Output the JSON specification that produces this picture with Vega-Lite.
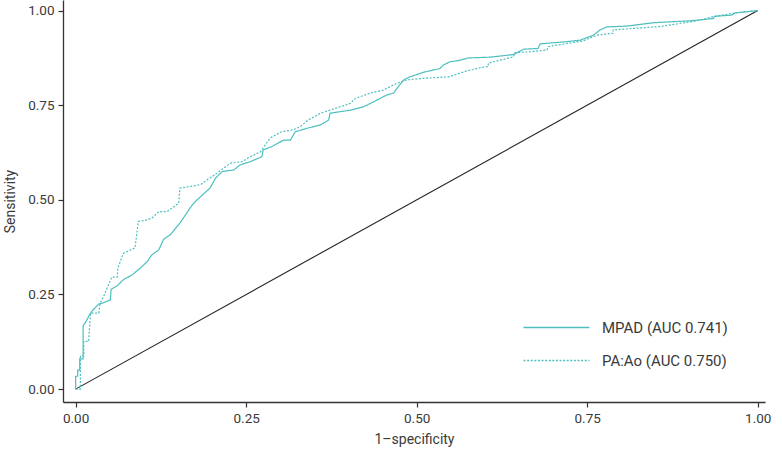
{
  "$schema": "https://vega.github.io/schema/vega-lite/v6.json",
  "width": 702,
  "height": 402,
  "autosize": "none",
  "padding": {"left": 63, "top": 0, "right": 17, "bottom": 55},
  "background": "white",
  "config": {
    "view": {"stroke": null},
    "font": "Roboto",
    "axis": {
      "grid": false,
      "domainColor": "#333333",
      "domainWidth": 1.3,
      "tickColor": "#333333",
      "tickWidth": 1.2,
      "tickSize": 5,
      "labelFont": "Roboto",
      "labelFontSize": 13.5,
      "labelColor": "#3a3a3a",
      "labelPadding": 4,
      "titleFont": "Roboto",
      "titleFontSize": 14,
      "titleFontWeight": "normal",
      "titleColor": "#3a3a3a"
    },
    "legend": {
      "labelFont": "Roboto",
      "labelFontSize": 15,
      "labelColor": "#3a3a3a"
    }
  },
  "datasets": {
    "roc": [
      {"series": "MPAD (AUC 0.741)", "fpr": 0, "tpr": 0},
      {"series": "MPAD (AUC 0.741)", "fpr": 0, "tpr": 0.034},
      {"series": "MPAD (AUC 0.741)", "fpr": 0.003, "tpr": 0.034},
      {"series": "MPAD (AUC 0.741)", "fpr": 0.003, "tpr": 0.05},
      {"series": "MPAD (AUC 0.741)", "fpr": 0.006, "tpr": 0.05},
      {"series": "MPAD (AUC 0.741)", "fpr": 0.006, "tpr": 0.08},
      {"series": "MPAD (AUC 0.741)", "fpr": 0.011, "tpr": 0.08},
      {"series": "MPAD (AUC 0.741)", "fpr": 0.011, "tpr": 0.168},
      {"series": "MPAD (AUC 0.741)", "fpr": 0.014, "tpr": 0.175},
      {"series": "MPAD (AUC 0.741)", "fpr": 0.018, "tpr": 0.188},
      {"series": "MPAD (AUC 0.741)", "fpr": 0.021, "tpr": 0.199},
      {"series": "MPAD (AUC 0.741)", "fpr": 0.026, "tpr": 0.21},
      {"series": "MPAD (AUC 0.741)", "fpr": 0.034, "tpr": 0.225},
      {"series": "MPAD (AUC 0.741)", "fpr": 0.039, "tpr": 0.227},
      {"series": "MPAD (AUC 0.741)", "fpr": 0.051, "tpr": 0.236},
      {"series": "MPAD (AUC 0.741)", "fpr": 0.052, "tpr": 0.264},
      {"series": "MPAD (AUC 0.741)", "fpr": 0.061, "tpr": 0.273},
      {"series": "MPAD (AUC 0.741)", "fpr": 0.07, "tpr": 0.289},
      {"series": "MPAD (AUC 0.741)", "fpr": 0.083, "tpr": 0.302},
      {"series": "MPAD (AUC 0.741)", "fpr": 0.095, "tpr": 0.32},
      {"series": "MPAD (AUC 0.741)", "fpr": 0.105, "tpr": 0.337},
      {"series": "MPAD (AUC 0.741)", "fpr": 0.112, "tpr": 0.355},
      {"series": "MPAD (AUC 0.741)", "fpr": 0.122, "tpr": 0.368},
      {"series": "MPAD (AUC 0.741)", "fpr": 0.129, "tpr": 0.396},
      {"series": "MPAD (AUC 0.741)", "fpr": 0.139, "tpr": 0.408},
      {"series": "MPAD (AUC 0.741)", "fpr": 0.153, "tpr": 0.439},
      {"series": "MPAD (AUC 0.741)", "fpr": 0.161, "tpr": 0.46},
      {"series": "MPAD (AUC 0.741)", "fpr": 0.166, "tpr": 0.474},
      {"series": "MPAD (AUC 0.741)", "fpr": 0.173, "tpr": 0.491},
      {"series": "MPAD (AUC 0.741)", "fpr": 0.178, "tpr": 0.5},
      {"series": "MPAD (AUC 0.741)", "fpr": 0.197, "tpr": 0.531},
      {"series": "MPAD (AUC 0.741)", "fpr": 0.205, "tpr": 0.557},
      {"series": "MPAD (AUC 0.741)", "fpr": 0.215, "tpr": 0.575},
      {"series": "MPAD (AUC 0.741)", "fpr": 0.232, "tpr": 0.579},
      {"series": "MPAD (AUC 0.741)", "fpr": 0.241, "tpr": 0.592},
      {"series": "MPAD (AUC 0.741)", "fpr": 0.256, "tpr": 0.601},
      {"series": "MPAD (AUC 0.741)", "fpr": 0.273, "tpr": 0.614},
      {"series": "MPAD (AUC 0.741)", "fpr": 0.275, "tpr": 0.632},
      {"series": "MPAD (AUC 0.741)", "fpr": 0.288, "tpr": 0.641},
      {"series": "MPAD (AUC 0.741)", "fpr": 0.305, "tpr": 0.658},
      {"series": "MPAD (AUC 0.741)", "fpr": 0.315, "tpr": 0.658},
      {"series": "MPAD (AUC 0.741)", "fpr": 0.322, "tpr": 0.68},
      {"series": "MPAD (AUC 0.741)", "fpr": 0.339, "tpr": 0.689},
      {"series": "MPAD (AUC 0.741)", "fpr": 0.359, "tpr": 0.698},
      {"series": "MPAD (AUC 0.741)", "fpr": 0.371, "tpr": 0.711},
      {"series": "MPAD (AUC 0.741)", "fpr": 0.373, "tpr": 0.729},
      {"series": "MPAD (AUC 0.741)", "fpr": 0.403, "tpr": 0.737},
      {"series": "MPAD (AUC 0.741)", "fpr": 0.422, "tpr": 0.746},
      {"series": "MPAD (AUC 0.741)", "fpr": 0.437, "tpr": 0.759},
      {"series": "MPAD (AUC 0.741)", "fpr": 0.456, "tpr": 0.777},
      {"series": "MPAD (AUC 0.741)", "fpr": 0.466, "tpr": 0.782},
      {"series": "MPAD (AUC 0.741)", "fpr": 0.473, "tpr": 0.799},
      {"series": "MPAD (AUC 0.741)", "fpr": 0.481, "tpr": 0.817},
      {"series": "MPAD (AUC 0.741)", "fpr": 0.49, "tpr": 0.825},
      {"series": "MPAD (AUC 0.741)", "fpr": 0.51, "tpr": 0.837},
      {"series": "MPAD (AUC 0.741)", "fpr": 0.534, "tpr": 0.847},
      {"series": "MPAD (AUC 0.741)", "fpr": 0.539, "tpr": 0.856},
      {"series": "MPAD (AUC 0.741)", "fpr": 0.549, "tpr": 0.865},
      {"series": "MPAD (AUC 0.741)", "fpr": 0.561, "tpr": 0.868},
      {"series": "MPAD (AUC 0.741)", "fpr": 0.576, "tpr": 0.875},
      {"series": "MPAD (AUC 0.741)", "fpr": 0.608, "tpr": 0.877},
      {"series": "MPAD (AUC 0.741)", "fpr": 0.642, "tpr": 0.884},
      {"series": "MPAD (AUC 0.741)", "fpr": 0.657, "tpr": 0.898},
      {"series": "MPAD (AUC 0.741)", "fpr": 0.678, "tpr": 0.9},
      {"series": "MPAD (AUC 0.741)", "fpr": 0.681, "tpr": 0.912},
      {"series": "MPAD (AUC 0.741)", "fpr": 0.72, "tpr": 0.918},
      {"series": "MPAD (AUC 0.741)", "fpr": 0.74, "tpr": 0.922},
      {"series": "MPAD (AUC 0.741)", "fpr": 0.759, "tpr": 0.935},
      {"series": "MPAD (AUC 0.741)", "fpr": 0.769, "tpr": 0.949},
      {"series": "MPAD (AUC 0.741)", "fpr": 0.779, "tpr": 0.957},
      {"series": "MPAD (AUC 0.741)", "fpr": 0.808, "tpr": 0.959},
      {"series": "MPAD (AUC 0.741)", "fpr": 0.847, "tpr": 0.968},
      {"series": "MPAD (AUC 0.741)", "fpr": 0.901, "tpr": 0.973},
      {"series": "MPAD (AUC 0.741)", "fpr": 0.935, "tpr": 0.979},
      {"series": "MPAD (AUC 0.741)", "fpr": 0.937, "tpr": 0.985},
      {"series": "MPAD (AUC 0.741)", "fpr": 0.962, "tpr": 0.988},
      {"series": "MPAD (AUC 0.741)", "fpr": 0.967, "tpr": 0.994},
      {"series": "MPAD (AUC 0.741)", "fpr": 1, "tpr": 1},
      {"series": "PA:Ao (AUC 0.750)", "fpr": 0, "tpr": 0},
      {"series": "PA:Ao (AUC 0.750)", "fpr": 0.007, "tpr": 0},
      {"series": "PA:Ao (AUC 0.750)", "fpr": 0.007, "tpr": 0.087},
      {"series": "PA:Ao (AUC 0.750)", "fpr": 0.012, "tpr": 0.087},
      {"series": "PA:Ao (AUC 0.750)", "fpr": 0.012, "tpr": 0.126},
      {"series": "PA:Ao (AUC 0.750)", "fpr": 0.019, "tpr": 0.126},
      {"series": "PA:Ao (AUC 0.750)", "fpr": 0.022, "tpr": 0.201},
      {"series": "PA:Ao (AUC 0.750)", "fpr": 0.034, "tpr": 0.201},
      {"series": "PA:Ao (AUC 0.750)", "fpr": 0.036, "tpr": 0.227},
      {"series": "PA:Ao (AUC 0.750)", "fpr": 0.041, "tpr": 0.245},
      {"series": "PA:Ao (AUC 0.750)", "fpr": 0.053, "tpr": 0.296},
      {"series": "PA:Ao (AUC 0.750)", "fpr": 0.061, "tpr": 0.296},
      {"series": "PA:Ao (AUC 0.750)", "fpr": 0.062, "tpr": 0.32},
      {"series": "PA:Ao (AUC 0.750)", "fpr": 0.07, "tpr": 0.359},
      {"series": "PA:Ao (AUC 0.750)", "fpr": 0.087, "tpr": 0.373},
      {"series": "PA:Ao (AUC 0.750)", "fpr": 0.092, "tpr": 0.443},
      {"series": "PA:Ao (AUC 0.750)", "fpr": 0.105, "tpr": 0.447},
      {"series": "PA:Ao (AUC 0.750)", "fpr": 0.112, "tpr": 0.452},
      {"series": "PA:Ao (AUC 0.750)", "fpr": 0.122, "tpr": 0.469},
      {"series": "PA:Ao (AUC 0.750)", "fpr": 0.134, "tpr": 0.469},
      {"series": "PA:Ao (AUC 0.750)", "fpr": 0.144, "tpr": 0.482},
      {"series": "PA:Ao (AUC 0.750)", "fpr": 0.151, "tpr": 0.491},
      {"series": "PA:Ao (AUC 0.750)", "fpr": 0.153, "tpr": 0.531},
      {"series": "PA:Ao (AUC 0.750)", "fpr": 0.183, "tpr": 0.54},
      {"series": "PA:Ao (AUC 0.750)", "fpr": 0.193, "tpr": 0.553},
      {"series": "PA:Ao (AUC 0.750)", "fpr": 0.207, "tpr": 0.57},
      {"series": "PA:Ao (AUC 0.750)", "fpr": 0.217, "tpr": 0.584},
      {"series": "PA:Ao (AUC 0.750)", "fpr": 0.227, "tpr": 0.597},
      {"series": "PA:Ao (AUC 0.750)", "fpr": 0.244, "tpr": 0.601},
      {"series": "PA:Ao (AUC 0.750)", "fpr": 0.256, "tpr": 0.614},
      {"series": "PA:Ao (AUC 0.750)", "fpr": 0.271, "tpr": 0.627},
      {"series": "PA:Ao (AUC 0.750)", "fpr": 0.285, "tpr": 0.663},
      {"series": "PA:Ao (AUC 0.750)", "fpr": 0.302, "tpr": 0.68},
      {"series": "PA:Ao (AUC 0.750)", "fpr": 0.319, "tpr": 0.685},
      {"series": "PA:Ao (AUC 0.750)", "fpr": 0.329, "tpr": 0.693},
      {"series": "PA:Ao (AUC 0.750)", "fpr": 0.341, "tpr": 0.711},
      {"series": "PA:Ao (AUC 0.750)", "fpr": 0.359, "tpr": 0.729},
      {"series": "PA:Ao (AUC 0.750)", "fpr": 0.373, "tpr": 0.737},
      {"series": "PA:Ao (AUC 0.750)", "fpr": 0.403, "tpr": 0.755},
      {"series": "PA:Ao (AUC 0.750)", "fpr": 0.41, "tpr": 0.768},
      {"series": "PA:Ao (AUC 0.750)", "fpr": 0.432, "tpr": 0.782},
      {"series": "PA:Ao (AUC 0.750)", "fpr": 0.451, "tpr": 0.79},
      {"series": "PA:Ao (AUC 0.750)", "fpr": 0.471, "tpr": 0.808},
      {"series": "PA:Ao (AUC 0.750)", "fpr": 0.486, "tpr": 0.817},
      {"series": "PA:Ao (AUC 0.750)", "fpr": 0.51, "tpr": 0.821},
      {"series": "PA:Ao (AUC 0.750)", "fpr": 0.547, "tpr": 0.825},
      {"series": "PA:Ao (AUC 0.750)", "fpr": 0.574, "tpr": 0.841},
      {"series": "PA:Ao (AUC 0.750)", "fpr": 0.593, "tpr": 0.849},
      {"series": "PA:Ao (AUC 0.750)", "fpr": 0.605, "tpr": 0.852},
      {"series": "PA:Ao (AUC 0.750)", "fpr": 0.605, "tpr": 0.861},
      {"series": "PA:Ao (AUC 0.750)", "fpr": 0.622, "tpr": 0.869},
      {"series": "PA:Ao (AUC 0.750)", "fpr": 0.642, "tpr": 0.878},
      {"series": "PA:Ao (AUC 0.750)", "fpr": 0.644, "tpr": 0.889},
      {"series": "PA:Ao (AUC 0.750)", "fpr": 0.666, "tpr": 0.891},
      {"series": "PA:Ao (AUC 0.750)", "fpr": 0.691, "tpr": 0.896},
      {"series": "PA:Ao (AUC 0.750)", "fpr": 0.693, "tpr": 0.905},
      {"series": "PA:Ao (AUC 0.750)", "fpr": 0.72, "tpr": 0.913},
      {"series": "PA:Ao (AUC 0.750)", "fpr": 0.744, "tpr": 0.92},
      {"series": "PA:Ao (AUC 0.750)", "fpr": 0.764, "tpr": 0.935},
      {"series": "PA:Ao (AUC 0.750)", "fpr": 0.788, "tpr": 0.94},
      {"series": "PA:Ao (AUC 0.750)", "fpr": 0.788, "tpr": 0.949},
      {"series": "PA:Ao (AUC 0.750)", "fpr": 0.857, "tpr": 0.958},
      {"series": "PA:Ao (AUC 0.750)", "fpr": 0.911, "tpr": 0.973},
      {"series": "PA:Ao (AUC 0.750)", "fpr": 0.935, "tpr": 0.984},
      {"series": "PA:Ao (AUC 0.750)", "fpr": 0.964, "tpr": 0.993},
      {"series": "PA:Ao (AUC 0.750)", "fpr": 1, "tpr": 1}
    ],
    "ref": [
      {"fpr": 0, "tpr": 0},
      {"fpr": 1, "tpr": 1}
    ]
  },
  "layer": [
    {
      "data": {"name": "ref"},
      "mark": {"type": "line", "color": "#222222", "strokeWidth": 1.1},
      "encoding": {
        "x": {"field": "fpr", "type": "quantitative"},
        "y": {"field": "tpr", "type": "quantitative"}
      }
    },
    {
      "data": {"name": "roc"},
      "mark": {"type": "line", "strokeWidth": 1.2, "interpolate": "linear"},
      "encoding": {
        "x": {
          "field": "fpr",
          "type": "quantitative",
          "title": "1–specificity",
          "scale": {"domain": [-0.0185, 1.0107], "nice": false, "zero": false},
          "axis": {"values": [0, 0.25, 0.5, 0.75, 1], "format": ".2f", "titlePadding": 8}
        },
        "y": {
          "field": "tpr",
          "type": "quantitative",
          "title": "Sensitivity",
          "scale": {"domain": [-0.034, 1.028], "nice": false, "zero": false},
          "axis": {"values": [0, 0.25, 0.5, 0.75, 1], "format": ".2f", "titlePadding": 10}
        },
        "color": {
          "field": "series",
          "type": "nominal",
          "scale": {"range": ["#4dbfbf", "#4dbfbf"]},
          "legend": {
            "title": null,
            "orient": "none",
            "legendX": 486,
            "legendY": 320,
            "padding": 0,
            "symbolType": "M-5,0H5",
            "symbolSize": 174,
            "symbolStrokeWidth": 1.3,
            "labelOffset": 38,
            "rowPadding": 17
          }
        },
        "strokeDash": {
          "field": "series",
          "type": "nominal",
          "scale": {"range": [[1, 0], [2, 1.6]]},
          "legend": {
            "title": null,
            "orient": "none",
            "legendX": 486,
            "legendY": 320,
            "padding": 0,
            "symbolType": "M-5,0H5",
            "symbolSize": 174,
            "symbolStrokeWidth": 1.3,
            "labelOffset": 38,
            "rowPadding": 17
          }
        }
      }
    }
  ]
}
